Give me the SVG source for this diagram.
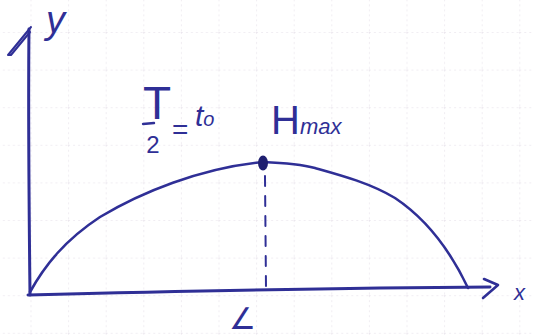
<svg xmlns="http://www.w3.org/2000/svg" width="533" height="335" viewBox="0 0 533 335">
<style>
.ink{fill:none;stroke:#2f2f96;stroke-linecap:round;stroke-linejoin:round}
.t{fill:#2f2f96;font-family:"Liberation Sans",Arial,sans-serif}
.i{font-style:italic}
</style>
<defs>
<pattern id="grid" x="30.5" y="32" width="37.6" height="37.6" patternUnits="userSpaceOnUse">
<path d="M0,0 V37.6 M0,0 H37.6" fill="none" stroke="#e2dbe6" stroke-width="1" stroke-dasharray="2 3"/>
</pattern>
</defs>
<rect width="533" height="335" fill="#ffffff"/>
<rect width="533" height="335" fill="url(#grid)"/>
<g id="connectors">
<path id="y-axis" class="ink" stroke-width="3" d="M30,295 C29,200 28,120 29,29"/>
<path id="y-arrow" class="ink" stroke-width="2" d="M31,27 L8,55 L11,55 L30,32"/>
<path id="x-axis" class="ink" stroke-width="3" d="M28,295 C150,292 330,288 490,287"/>
<path id="x-arrow" class="ink" stroke-width="2.6" d="M484,279 L498,285 L483,298"/>
<path id="curve" class="ink" stroke-width="2.6" d="M30,292 C45,265 65,240 100,217 C140,193 200,168 263,162 C285,163 300,164 315,168 C340,175 370,183 395,198 C425,218 450,250 468,288"/>
<path id="dash" class="ink" stroke-width="2" stroke-dasharray="10 10" d="M265,176 L266,288"/>
</g>
<g id="peak"><ellipse cx="263" cy="163" rx="5" ry="7.5" fill="#1f1f70"/></g>
<g id="y-label"><text class="t i" x="46" y="33" font-size="38">y</text></g>
<g id="x-label"><text class="t i" x="514" y="300" font-size="22">x</text></g>
<g id="t0-label">
<text class="t" x="157" y="119" font-size="46" text-anchor="middle">T</text>
<line class="ink" stroke-width="2.4" x1="143" y1="124" x2="154" y2="123"/>
<text class="t" x="153" y="153" font-size="24" text-anchor="middle">2</text>
<text class="t" x="172" y="139" font-size="28">=</text>
<text class="t i" x="195" y="126" font-size="30">t<tspan font-size="20">o</tspan></text>
</g>
<g id="hmax-label"><text class="t" x="271" y="134" font-size="40">H<tspan font-size="22" class="i">max</tspan></text></g>
<g id="bottom-mark"><text class="t" x="229" y="329" font-size="30" font-family="DejaVu Sans,sans-serif">∠</text></g>
</svg>
